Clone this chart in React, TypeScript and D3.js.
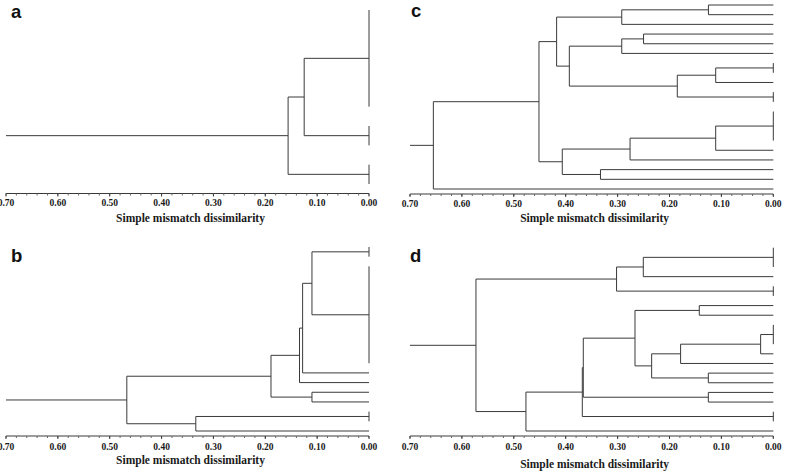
import React from "react";
import * as d3 from "d3";

// ---------- data ----------
// leaf member counts (identical members drawn as a vertical bar at distance 0)
const leavesA = [6, 2, 2];
// merges: [childA, childB, height]; ids >= leaves.length refer to earlier merges
const mergesA: [number, number, number][] = [
  [0, 1, 0.125],
  [3, 2, 0.156],
];

const leavesB = [2, 11, 1, 1, 1, 1, 2, 1];
const mergesB: [number, number, number][] = [
  [0, 1, 0.110],
  [8, 2, 0.128],
  [9, 3, 0.134],
  [4, 5, 0.110],
  [10, 11, 0.189],
  [6, 7, 0.334],
  [12, 13, 0.467],
];

const leavesC = [1, 1, 1, 1, 1, 1, 2, 1, 2, 4, 1, 1, 1, 1, 1];
const mergesC: [number, number, number][] = [
  [0, 1, 0.125],
  [15, 2, 0.292],
  [3, 4, 0.25],
  [17, 5, 0.292],
  [6, 7, 0.111],
  [19, 8, 0.185],
  [18, 20, 0.393],
  [16, 21, 0.4175],
  [9, 10, 0.111],
  [23, 11, 0.276],
  [12, 13, 0.333],
  [24, 25, 0.4066],
  [22, 26, 0.4515],
  [27, 14, 0.655],
];

const leavesD = [3, 1, 2, 1, 1, 3, 1, 1, 1, 1, 1, 1, 2, 1];
const mergesD: [number, number, number][] = [
  [0, 1, 0.2505],
  [14, 2, 0.302],
  [3, 4, 0.1426],
  [5, 6, 0.0244],
  [17, 7, 0.1786],
  [8, 9, 0.1252],
  [18, 19, 0.2344],
  [16, 20, 0.2665],
  [10, 11, 0.1252],
  [21, 22, 0.3661],
  [23, 12, 0.368],
  [24, 13, 0.4766],
  [15, 25, 0.5729],
];

const majorTicks = [0.7, 0.6, 0.5, 0.4, 0.3, 0.2, 0.1, 0.0];
const minorStep = 0.02;
const axisMax = 0.7;
const axisTitle = "Simple mismatch dissimilarity";
const panelLetters = ["a", "b", "c", "d"];

// ---------- styling / layout ----------
const STROKE = "#3a3a3a";
const SERIF = "'Liberation Serif', 'Times New Roman', serif";
const SANS = "'Liberation Sans', Arial, sans-serif";

type PanelCfg = {
  letter: string;
  leaves: number[];
  merges: [number, number, number][];
  x0: number; // pixel of 0.70
  x1: number; // pixel of 0.00
  yTop: number;
  yBot: number;
  axisY: number;
  labelY: number;
  titleY: number;
  letterX: number;
  letterY: number;
};

function Dendro({ cfg }: { cfg: PanelCfg }) {
  const x = d3.scaleLinear().domain([axisMax, 0]).range([cfg.x0, cfg.x1]);
  const nSlots = d3.sum(cfg.leaves);
  const y = d3.scaleLinear().domain([0, nSlots - 1]).range([cfg.yTop, cfg.yBot]);

  const nodeY: number[] = [];
  const nodeH: number[] = [];
  const parentH: number[] = [];
  const segs: [number, number, number, number][] = [];

  let slot = 0;
  cfg.leaves.forEach((n, i) => {
    const a = slot;
    const b = slot + n - 1;
    nodeY[i] = (y(a) + y(b)) / 2;
    nodeH[i] = 0;
    if (n > 1) segs.push([x(0), y(a), x(0), y(b)]);
    slot += n;
  });
  const nL = cfg.leaves.length;
  cfg.merges.forEach(([ca, cb, h], k) => {
    const id = nL + k;
    parentH[ca] = h;
    parentH[cb] = h;
    nodeY[id] = (nodeY[ca] + nodeY[cb]) / 2;
    nodeH[id] = h;
    segs.push([x(h), nodeY[ca], x(h), nodeY[cb]]);
  });
  const rootId = nL + cfg.merges.length - 1;
  parentH[rootId] = axisMax;
  for (let i = 0; i <= rootId; i++) {
    segs.push([x(nodeH[i]), nodeY[i], x(parentH[i]), nodeY[i]]);
  }

  const minor = d3.range(0, Math.round(axisMax / minorStep) + 1).map((k) => k * minorStep);

  return (
    <g>
      <text x={cfg.letterX} y={cfg.letterY} fontFamily={SANS} fontWeight="bold" fontSize={18.5} fill="#111">
        {cfg.letter}
      </text>
      {segs.map((s, i) => (
        <line key={i} x1={s[0]} y1={s[1]} x2={s[2]} y2={s[3]} stroke={STROKE} strokeWidth={1} />
      ))}
      <line x1={x(axisMax)} x2={x(0)} y1={cfg.axisY} y2={cfg.axisY} stroke={STROKE} strokeWidth={1} />
      {minor.map((v, i) => (
        <line key={"m" + i} x1={x(v)} x2={x(v)} y1={cfg.axisY} y2={cfg.axisY + 2} stroke="#666" strokeWidth={1} />
      ))}
      {majorTicks.map((v, i) => (
        <g key={"t" + i}>
          <line x1={x(v)} x2={x(v)} y1={cfg.axisY} y2={cfg.axisY + 3} stroke={STROKE} strokeWidth={1} />
          <text
            x={x(v)}
            y={cfg.labelY}
            textAnchor="middle"
            fontFamily={SERIF}
            fontWeight="bold"
            fontSize={9.5}
            fill="#1a1a1a"
          >
            {v.toFixed(2)}
          </text>
        </g>
      ))}
      <text
        x={(x(axisMax) + x(0)) / 2 + 3}
        y={cfg.titleY}
        textAnchor="middle"
        fontFamily={SERIF}
        fontWeight="bold"
        fontSize={11.5}
        fill="#1a1a1a"
      >
        {axisTitle}
      </text>
    </g>
  );
}

const panels: PanelCfg[] = [
  { letter: panelLetters[0], leaves: leavesA, merges: mergesA, x0: 6, x1: 369, yTop: 10, yBot: 184, axisY: 193.5, labelY: 205.5, titleY: 221.5, letterX: 11, letterY: 17.5 },
  { letter: panelLetters[1], leaves: leavesB, merges: mergesB, x0: 6, x1: 369, yTop: 247, yBot: 431, axisY: 436, labelY: 450, titleY: 463.5, letterX: 11, letterY: 261.5 },
  { letter: panelLetters[2], leaves: leavesC, merges: mergesC, x0: 410, x1: 773.3, yTop: 5, yBot: 189, axisY: 194, labelY: 206.5, titleY: 222, letterX: 411, letterY: 17 },
  { letter: panelLetters[3], leaves: leavesD, merges: mergesD, x0: 410, x1: 773.3, yTop: 247.7, yBot: 431, axisY: 436, labelY: 450, titleY: 468, letterX: 410, letterY: 261.5 },
];

export default function App() {
  return (
    <svg
      width={785}
      height={472}
      viewBox="0 0 785 472"
      style={{ position: "absolute", left: 0, top: 0, background: "#fff" }}
    >
      <rect x={0} y={0} width={785} height={472} fill="#fff" />
      {panels.map((p) => (
        <Dendro key={p.letter} cfg={p} />
      ))}
    </svg>
  );
}
